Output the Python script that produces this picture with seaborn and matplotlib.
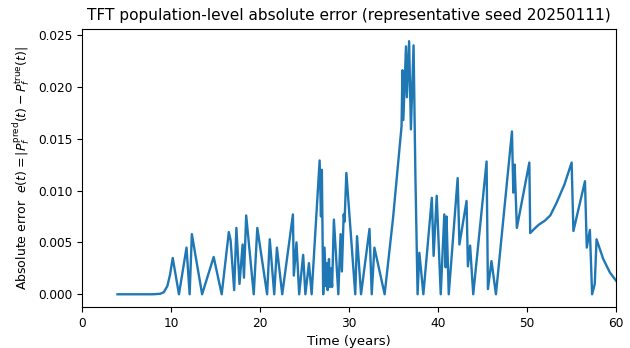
import matplotlib
matplotlib.use("Agg")
import matplotlib.pyplot as plt
import numpy as np
import pandas as pd
import seaborn as sns

# Values (time in years, absolute error)
time_years = [
    4.0, 6.0, 8.0, 8.8, 9.2, 9.6, 9.9, 10.2, 10.9, 11.75,
    12.1, 12.35, 13.5, 14.8, 15.7, 16.5, 16.7, 17.1, 17.35, 17.7,
    18.05, 18.2, 18.45, 19.3, 19.7, 20.8, 21.1, 21.6, 21.9, 22.5,
    23.7, 23.8, 24.1, 24.4, 24.85, 25.1, 25.5, 25.8, 26.7, 26.85,
    26.95, 27.1, 27.25, 27.4, 27.5, 27.6, 27.75, 27.85, 28.0, 28.1,
    28.3, 28.8, 29.05, 29.2, 29.4, 29.5, 29.7, 30.7, 30.9, 31.35,
    32.3, 32.55, 32.85, 34.0, 34.95, 35.9, 36.0, 36.1, 36.4, 36.5,
    36.75, 36.95, 37.25, 37.45, 37.7, 37.9, 38.35, 39.3, 39.5, 39.85,
    40.3, 40.7, 40.85, 40.95, 41.2, 42.2, 42.4, 43.2, 43.35, 43.6,
    43.95, 45.45, 45.6, 46.0, 46.5, 48.3, 48.45, 48.6, 48.85, 50.25,
    50.35, 50.8, 51.3, 52.0, 52.6, 53.3, 54.2, 55.0, 55.2, 56.5,
    56.7, 57.05, 57.3, 57.6, 57.8, 58.55, 59.3, 60.0,
]
abs_error = [
    0.0, 0.0, 0.0, 0.00005, 0.0002, 0.0008, 0.0019, 0.0035, 0.0, 0.0045,
    0.0, 0.0058, 0.0, 0.0036, 0.0, 0.0060, 0.0052, 0.0004, 0.0064, 0.0010,
    0.0048, 0.0016, 0.0076, 0.0, 0.0064, 0.0, 0.0053, 0.0, 0.0045, 0.0,
    0.0077, 0.0018, 0.0050, 0.0, 0.0038, 0.0, 0.0030, 0.0, 0.0129, 0.0075,
    0.0120, 0.0, 0.0045, 0.0008, 0.0030, 0.0004, 0.0034, 0.0007, 0.0025, 0.0007,
    0.0072, 0.0, 0.0058, 0.0022, 0.0077, 0.0070, 0.0117, 0.0, 0.0056, 0.0,
    0.0063, 0.0, 0.0045, 0.0, 0.0074, 0.0162, 0.0216, 0.0168, 0.0239, 0.0190,
    0.0244, 0.0159, 0.0240, 0.0117, 0.0, 0.0040, 0.0, 0.0093, 0.0037, 0.0095,
    0.0, 0.0077, 0.0026, 0.0075, 0.0, 0.0112, 0.0048, 0.0090, 0.0027, 0.0047,
    0.0, 0.0128, 0.0005, 0.0032, 0.0, 0.0157, 0.0098, 0.0125, 0.0064, 0.0127,
    0.0059, 0.0063, 0.0067, 0.0071, 0.0076, 0.0088, 0.0106, 0.0127, 0.0061, 0.0109,
    0.0045, 0.0062, 0.0, 0.0010, 0.0053, 0.0034, 0.0021, 0.0013,
]

df = pd.DataFrame({"t": time_years, "err": abs_error})

fig = plt.figure(figsize=(6.3, 3.48), dpi=100)
ax = fig.add_axes([0.130, 0.118, 0.848, 0.800])

sns.lineplot(data=df, x="t", y="err", ax=ax, color="#1f77b4", linewidth=1.7)

ax.set_xlim(0, 60)
ax.set_xticks([0, 10, 20, 30, 40, 50, 60])
ax.set_yticks([0.000, 0.005, 0.010, 0.015, 0.020, 0.025])
ax.set_yticklabels([f"{v:.3f}" for v in [0.000, 0.005, 0.010, 0.015, 0.020, 0.025]])
ax.tick_params(labelsize=8.7)

ax.set_xlabel("Time (years)", fontsize=9.5)
ax.set_ylabel(r"Absolute error  $e(t)=|P_f^{\mathrm{pred}}(t)-P_f^{\mathrm{true}}(t)|$", fontsize=9)
ax.set_title("TFT population-level absolute error (representative seed 20250111)", fontsize=11.1)

fig.savefig("out.png", dpi=100)
